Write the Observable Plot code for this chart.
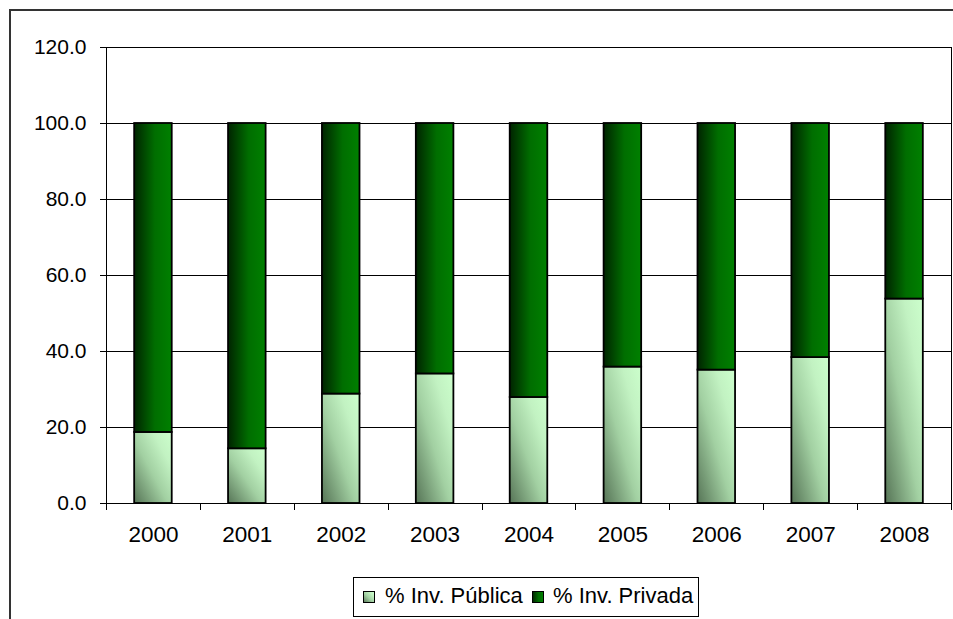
<!DOCTYPE html>
<html>
<head>
<meta charset="utf-8">
<script src="https://cdn.jsdelivr.net/npm/d3@7"></script>
<script src="https://cdn.jsdelivr.net/npm/@observablehq/plot@0.6"></script>
<style>
  html, body { margin: 0; padding: 0; background: #fff; overflow: hidden; width: 953px; height: 619px; }
  #page { position: relative; width: 953px; height: 619px; }
  #outer { position: absolute; left: 9px; top: 9px; width: 1200px; height: 800px; border-left: 2px solid #333; border-top: 2px solid #333; }
  #chart { position: absolute; left: 0; top: 0; }
  #legend { position: absolute; left: 0; top: 0; pointer-events: none; }
</style>
</head>
<body>
<div id="page">
  <div id="outer"></div>
  <div id="chart"></div>
  <svg id="legend" width="953" height="619"></svg>
</div>
<script>
// ---- data ----
const years = ["2000", "2001", "2002", "2003", "2004", "2005", "2006", "2007", "2008"];
const publica = [18.7, 14.4, 28.8, 34.1, 27.9, 35.9, 35.1, 38.4, 53.8];
const privada = [81.3, 85.6, 71.2, 65.9, 72.1, 64.1, 64.9, 61.6, 46.2];
const seriesNames = ["% Inv. Pública", "% Inv. Privada"];
const yTicks = [0, 20, 40, 60, 80, 100, 120];

const rows = [];
years.forEach((y, i) => {
  rows.push({year: y, series: seriesNames[0], value: publica[i]});
  rows.push({year: y, series: seriesNames[1], value: privada[i]});
});

// boundary tick marks below x axis (Excel-style category separators)
function boundaryTicks(index, scales, values, dimensions) {
  const sx = scales.x, sy = scales.y;
  const step = sx(years[1]) - sx(years[0]);
  const x0 = dimensions.marginLeft;
  const yb = sy(0);
  const g = d3.create("svg:g").attr("stroke", "#000").attr("stroke-width", 1);
  for (let i = 0; i <= years.length; i++) {
    const x = Math.round(x0 + i * step) + 0.5;
    g.append("line").attr("x1", x).attr("x2", x).attr("y1", yb).attr("y2", yb + 7);
  }
  return g.node();
}

const svg = Plot.plot({
  width: 953,
  height: 619,
  marginLeft: 106,
  marginRight: 2,
  marginTop: 47,
  marginBottom: 116,
  style: {fontFamily: "'Liberation Sans', Arial, sans-serif", fontSize: "21px", color: "#000", background: "transparent"},
  x: {type: "band", domain: years, paddingInner: 0.6, paddingOuter: 0.3, round: false, label: null},
  y: {domain: [0, 120], label: null},
  color: {domain: seriesNames, range: ["url(#gradPub)", "url(#gradPriv)"]},
  marks: [
    Plot.gridY(yTicks, {stroke: "#000", strokeOpacity: 1, strokeWidth: 1}),
    Plot.frame({stroke: "#000", strokeWidth: 1}),
    Plot.barY(rows, {x: "year", y: "value", fill: "series", stroke: "#000", strokeWidth: 1.8}),
    Plot.axisY({ticks: yTicks, tickFormat: d3.format(".1f"), tickSize: 6, tickPadding: 14, stroke: "#000", fontSize: 21}),
    Plot.axisX({tickSize: 0, tickPadding: 23, fontSize: 22.5}),
    Plot.ruleY([0], {render: boundaryTicks})
  ]
});

const defs = d3.select(svg).insert("defs", ":first-child");
const gPriv = defs.append("linearGradient").attr("id", "gradPriv")
  .attr("x1", 0).attr("y1", 0).attr("x2", 1).attr("y2", 0);
gPriv.append("stop").attr("offset", 0).attr("stop-color", "#002400");
gPriv.append("stop").attr("offset", 0.55).attr("stop-color", "#006e00");
gPriv.append("stop").attr("offset", 1).attr("stop-color", "#008000");
const gPub = defs.append("linearGradient").attr("id", "gradPub")
  .attr("x1", 0).attr("y1", 1).attr("x2", 1).attr("y2", 0);
gPub.append("stop").attr("offset", 0).attr("stop-color", "#567456");
gPub.append("stop").attr("offset", 0.45).attr("stop-color", "#a2d0a2");
gPub.append("stop").attr("offset", 0.75).attr("stop-color", "#c2f2c2");
gPub.append("stop").attr("offset", 1).attr("stop-color", "#ccffcc");

document.getElementById("chart").appendChild(svg);

// ---- legend ----
const leg = d3.select("#legend");
leg.append("rect").attr("x", 353.5).attr("y", 577.5).attr("width", 345).attr("height", 39)
  .attr("fill", "#fff").attr("stroke", "#000").attr("stroke-width", 1);
const items = [
  {name: seriesNames[0], fill: "url(#gradPub)", sx: 363, tx: 385},
  {name: seriesNames[1], fill: "url(#gradPriv)", sx: 532, tx: 553}
];
items.forEach(it => {
  leg.append("rect").attr("x", it.sx + 0.5).attr("y", 591.5).attr("width", 11).attr("height", 11)
    .attr("fill", it.fill).attr("stroke", "#000").attr("stroke-width", 1);
  leg.append("text").attr("x", it.tx).attr("y", 603)
    .attr("font-family", "'Liberation Sans', Arial, sans-serif").attr("font-size", 22)
    .attr("fill", "#000").text(it.name);
});
</script>
</body>
</html>
